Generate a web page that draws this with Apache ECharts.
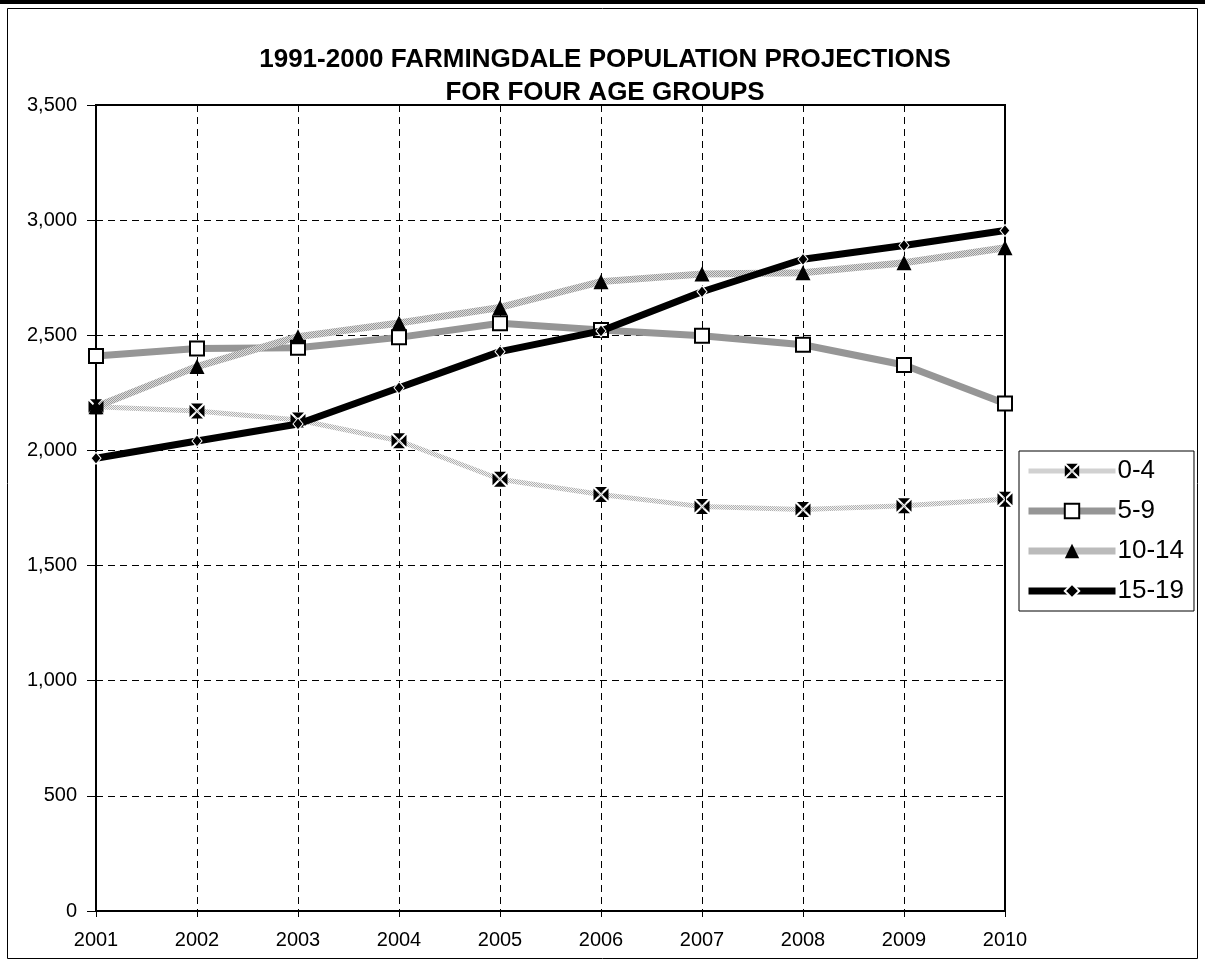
<!DOCTYPE html>
<html>
<head>
<meta charset="utf-8">
<script src="https://cdn.jsdelivr.net/npm/echarts@6/dist/echarts.min.js"></script>
<style>
  html, body { margin: 0; padding: 0; background: #fff; }
  #chart { width: 1205px; height: 972px; }
</style>
</head>
<body>
<div id="chart"></div>
<script>
const years = ["2001", "2002", "2003", "2004", "2005", "2006", "2007", "2008", "2009", "2010"];
const age0to4 = [2190, 2171, 2132, 2042, 1875, 1809, 1756, 1744, 1760, 1788];
const age5to9 = [2410, 2443, 2446, 2491, 2552, 2523, 2498, 2459, 2371, 2204];
const age10to14 = [2190, 2364, 2494, 2553, 2621, 2733, 2766, 2772, 2815, 2880];
const age15to19 = [1966, 2041, 2115, 2272, 2429, 2519, 2689, 2830, 2890, 2955];
const seriesNames = ["0-4", "5-9", "10-14", "15-19"];

// dotted grey texture used by Excel for the light lines
function texture(dark, light) {
  const c = document.createElement("canvas");
  c.width = 2; c.height = 2;
  const ctx = c.getContext("2d");
  ctx.fillStyle = light; ctx.fillRect(0, 0, 2, 2);
  ctx.fillStyle = dark; ctx.fillRect(0, 0, 1, 1); ctx.fillRect(1, 1, 1, 1);
  return { image: c, repeat: "repeat" };
}

// black square with a white X cut through it
const xSquare = "path://M1,0L9,0L5,4ZM1,10L9,10L5,6ZM0,1L0,9L4,5ZM10,1L10,9L6,5Z";
const lineWidths = [5, 7, 7, 7];
const lineColors = [texture("#b0b0b0", "#f2f2f2"), "#969696", texture("#9a9a9a", "#dcdcdc"), "#000"];

const chart = echarts.init(document.getElementById("chart"));
chart.setOption({
  animation: false,
  textStyle: { fontFamily: "Liberation Sans, Arial, sans-serif", color: "#000" },
  title: {
    text: "1991-2000 FARMINGDALE POPULATION PROJECTIONS\nFOR FOUR AGE GROUPS",
    left: 605,
    textAlign: "center",
    top: 43,
    padding: 0,
    textStyle: { fontSize: 26, fontWeight: "bold", lineHeight: 33, color: "#000" }
  },
  graphic: [
    { type: "rect", shape: { x: 0, y: 0, width: 1205, height: 4 }, style: { fill: "#000" } },
    { type: "rect", shape: { x: 7.5, y: 8.5, width: 1190, height: 950 }, style: { fill: null, stroke: "#000", lineWidth: 1 } }
  ],
  legend: {
    orient: "vertical",
    left: 1019,
    top: 451,
    data: seriesNames.map((n, i) => ({ name: n, lineStyle: { width: lineWidths[i], color: lineColors[i] } })),
    itemWidth: 87,
    itemHeight: 18,
    itemGap: 12,
    padding: [6, 10, 6, 6],
    borderColor: "#000",
    borderWidth: 1,
    textStyle: { fontSize: 26, lineHeight: 26, color: "#000", padding: [2, 0, 0, -3] }
  },
  grid: {
    left: 96,
    right: 200,
    top: 105,
    bottom: 61,
    show: true,
    borderColor: "#000",
    borderWidth: 2,
    containLabel: false
  },
  xAxis: {
    type: "category",
    data: years,
    boundaryGap: false,
    axisLine: { lineStyle: { color: "#000", width: 2 } },
    axisTick: { show: true, alignWithLabel: true, length: 6, lineStyle: { color: "#000" } },
    axisLabel: { fontSize: 20, color: "#000", margin: 19 },
    splitLine: { show: true, lineStyle: { color: "#000", type: [7, 5], width: 1 } }
  },
  yAxis: {
    type: "value",
    min: 0,
    max: 3500,
    interval: 500,
    axisLine: { show: true, lineStyle: { color: "#000", width: 2 } },
    axisTick: { show: true, length: 9, lineStyle: { color: "#000" } },
    axisLabel: {
      fontSize: 20, color: "#000", margin: 19,
      formatter: v => v.toLocaleString("en-US")
    },
    splitLine: { show: true, lineStyle: { color: "#000", type: [7, 5], width: 1 } }
  },
  series: [
    {
      name: "0-4", type: "line", data: age0to4,
      lineStyle: { width: lineWidths[0], color: lineColors[0] },
      itemStyle: { color: "#000", borderWidth: 0 },
      symbol: xSquare, symbolSize: 15
    },
    {
      name: "5-9", type: "line", data: age5to9,
      lineStyle: { width: lineWidths[1], color: lineColors[1] },
      itemStyle: { color: "#fff", borderColor: "#000", borderWidth: 2 },
      symbol: "rect", symbolSize: 14
    },
    {
      name: "10-14", type: "line", data: age10to14,
      lineStyle: { width: lineWidths[2], color: lineColors[2] },
      itemStyle: { color: "#000", borderWidth: 0 },
      symbol: "triangle", symbolSize: 15
    },
    {
      name: "15-19", type: "line", data: age15to19,
      lineStyle: { width: lineWidths[3], color: lineColors[3] },
      itemStyle: { color: "#000", borderColor: "#fff", borderWidth: 1 },
      symbol: "diamond", symbolSize: [10, 12], z: 5
    }
  ]
});
</script>
</body>
</html>
